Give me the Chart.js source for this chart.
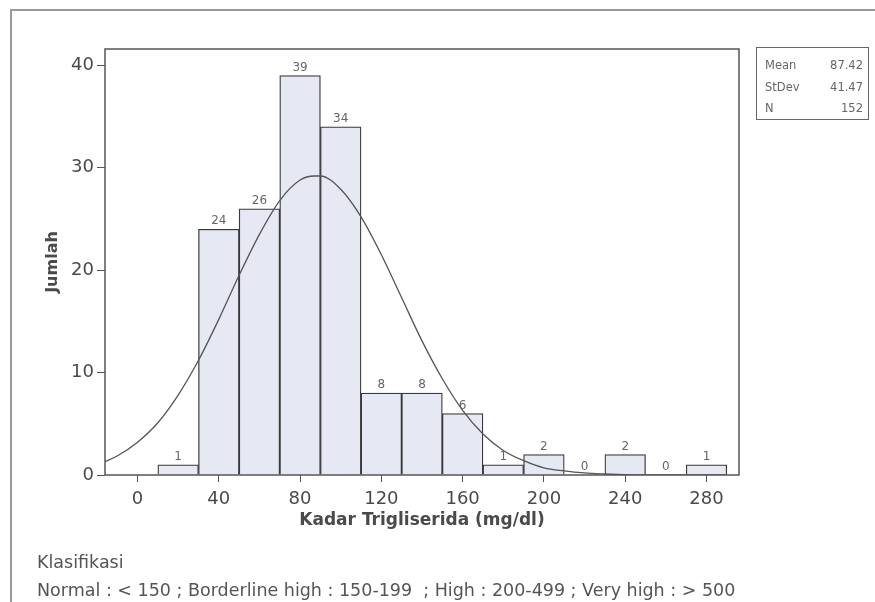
<!DOCTYPE html>
<html lang="id">
<head>
    <meta charset="UTF-8">
    <script src="https://cdn.jsdelivr.net/npm/chart.js"></script>
    <title>Histogram Kadar Trigliserida</title>
    <style>
        body {
            margin: 0;
            background-color: #fff;
            font-family: "DejaVu Sans", Verdana, sans-serif;
        }

        #wrap {
            position: relative;
            width: 875px;
            height: 602px;
            overflow: hidden;
        }

        #frame {
            position: absolute;
            left: 10px;
            top: 9px;
            width: 870px;
            height: 600px;
            border-top: 2px solid #999;
            border-left: 2px solid #999;
        }

        #histChart {
            position: absolute;
            left: 0;
            top: 0;
        }

        #stats {
            position: absolute;
            left: 756px;
            top: 47px;
            width: 98px;
            height: 64px;
            padding: 7px 5px 0 8px;
            border: 1px solid #666;
            font-size: 11.5px;
            line-height: 21.5px;
            color: #666;
        }

        #stats div {
            display: flex;
            justify-content: space-between;
        }

        #notes {
            position: absolute;
            left: 37px;
            top: 548px;
            font-size: 17.5px;
            line-height: 28px;
            color: #555;
            white-space: nowrap;
        }
    </style>
</head>
<body>
<div id="wrap">
    <div id="frame"></div>
    <canvas id="histChart" width="875" height="602"></canvas>
    <div id="stats">
        <div><span>Mean</span><span>87.42</span></div>
        <div><span>StDev</span><span>41.47</span></div>
        <div><span>N</span><span>152</span></div>
    </div>
    <div id="notes">
        Klasifikasi<br>
        Normal : &lt; 150 ; Borderline high : 150-199 &nbsp;; High : 200-499 ; Very high : &gt; 500
    </div>
</div>

<script>
    // bin centres (mg/dl) and counts
    const binMid = [20, 40, 60, 80, 100, 120, 140, 160, 180, 200, 220, 240, 260, 280];
    const counts = [1, 24, 26, 39, 34, 8, 8, 6, 1, 2, 0, 2, 0, 1];

    // fitted normal curve
    const curveX = [-16, -10, 0, 10, 20, 30, 40, 50, 60, 70, 80, 87, 90, 100, 110, 120, 130, 140, 150, 160, 170, 180, 190, 200, 210, 220, 230, 240, 250, 260, 270, 280, 290];
    const curveY = [1.3, 1.85, 3.2, 5.1, 7.8, 11.2, 15.2, 19.5, 23.5, 26.8, 28.8, 29.2, 29.2, 27.9, 25.2, 21.5, 17.3, 13.1, 9.4, 6.3, 4.0, 2.4, 1.4, 0.7, 0.4, 0.2, 0.1, 0.03, 0.01, 0, 0, 0, 0];

    const xTicks = [0, 40, 80, 120, 160, 200, 240, 280];
    const yTicks = [0, 10, 20, 30, 40];

    const tickFont = { family: "DejaVu Sans", size: 18 };
    const grey = '#4a4a4a';

    // count labels above the bars + box round the plot area
    const barLabels = {
        id: 'barLabels',
        afterDatasetsDraw(chart) {
            const ctx = chart.ctx;
            const meta = chart.getDatasetMeta(1);
            ctx.save();
            ctx.font = '12px "DejaVu Sans"';
            ctx.fillStyle = '#666';
            ctx.textAlign = 'center';
            ctx.textBaseline = 'alphabetic';
            meta.data.forEach((bar, i) => {
                ctx.fillText(counts[i], bar.x, bar.y - 5);
            });
            const a = chart.chartArea;
            ctx.strokeStyle = '#555';
            ctx.lineWidth = 1.5;
            ctx.strokeRect(a.left, a.top, a.right - a.left, a.bottom - a.top);
            ctx.restore();
        }
    };

    const ctx = document.getElementById('histChart').getContext('2d');
    new Chart(ctx, {
        data: {
            datasets: [{
                type: 'line',
                data: curveX.map((x, i) => ({ x: x, y: curveY[i] })),
                borderColor: '#555',
                borderWidth: 1.3,
                pointRadius: 0,
                cubicInterpolationMode: 'monotone',
                fill: false,
                order: 0
            }, {
                type: 'bar',
                data: binMid.map((x, i) => ({ x: x, y: counts[i] })),
                backgroundColor: '#e6e8f3',
                borderColor: '#3a3a3a',
                borderWidth: 1.3,
                barPercentage: 1,
                categoryPercentage: 1,
                order: 1
            }]
        },
        options: {
            responsive: false,
            animation: false,
            layout: { padding: { left: 0, top: 49, right: 136, bottom: 0 } },
            plugins: {
                legend: { display: false },
                tooltip: { enabled: false }
            },
            scales: {
                x: {
                    type: 'linear',
                    min: -16,
                    max: 296,
                    offset: false,
                    afterBuildTicks: s => { s.ticks = xTicks.map(v => ({ value: v })); },
                    afterFit: s => { s.height = 127; },
                    grid: { drawOnChartArea: false, offset: false, tickLength: 7, color: '#555' },
                    border: { display: false },
                    ticks: { font: tickFont, color: grey, padding: 7, maxRotation: 0 },
                    title: {
                        display: true,
                        text: 'Kadar Trigliserida (mg/dl)',
                        font: { family: "DejaVu Sans", size: 17, weight: 'bold' },
                        color: grey,
                        padding: { bottom: 71 }
                    }
                },
                y: {
                    min: 0,
                    max: 41.6,
                    afterBuildTicks: s => { s.ticks = yTicks.map(v => ({ value: v })); },
                    afterFit: s => { s.width = 105; },
                    grid: { drawOnChartArea: false, tickLength: 8, color: '#555' },
                    border: { display: false },
                    ticks: { font: tickFont, color: grey, padding: 3 },
                    title: {
                        display: true,
                        text: 'Jumlah',
                        font: { family: "DejaVu Sans", size: 16, weight: 'bold' },
                        color: grey,
                        padding: { top: 43 }
                    }
                }
            }
        },
        plugins: [barLabels]
    });
</script>
</body>
</html>
